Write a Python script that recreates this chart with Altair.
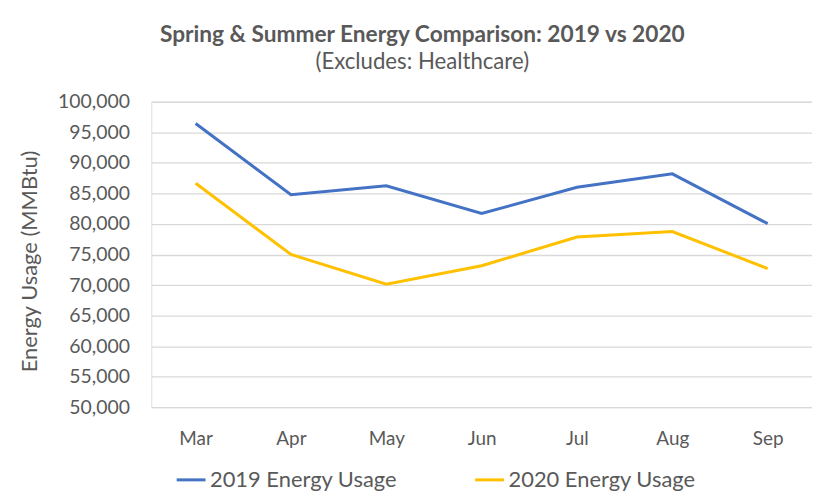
import altair as alt
import pandas as pd

months = ["Mar", "Apr", "May", "Jun", "Jul", "Aug", "Sep"]
usage_2019 = [96450, 84800, 86250, 81700, 86000, 88200, 80050]
usage_2020 = [86650, 75000, 70150, 73150, 77850, 78750, 72700]
series_names = ["2019 Energy Usage", "2020 Energy Usage"]
colors = ["#4472C4", "#FFC000"]
y_ticks = list(range(50000, 100001, 5000))

rows = []
for m, v in zip(months, usage_2019):
    rows.append({"Month": m, "Usage": v, "Series": series_names[0]})
for m, v in zip(months, usage_2020):
    rows.append({"Month": m, "Usage": v, "Series": series_names[1]})
df = pd.DataFrame(rows)

FONT = "Lato"
GRAY = "#595959"

chart = alt.Chart(df).mark_line(strokeWidth=3).encode(
    x=alt.X("Month:N", sort=months,
            scale=alt.Scale(type="point", padding=0.465),
            axis=alt.Axis(title=None, labelAngle=0, domain=False, ticks=False,
                          grid=False, labelPadding=22, labelFontSize=19,
                          labelColor=GRAY, labelFont=FONT)),
    y=alt.Y("Usage:Q",
            scale=alt.Scale(domain=[50000, 100000], nice=False, zero=False),
            axis=alt.Axis(title="Energy Usage (MMBtu)", values=y_ticks, format=",.0f",
                          domain=False, ticks=False, labelPadding=22,
                          labelFontSize=19.5, labelColor=GRAY, labelFont=FONT,
                          titleFontSize=22, titleFontWeight="normal", titleColor=GRAY,
                          titleFont=FONT, titlePadding=16, titleY=160,
                          gridColor="#D9D9D9", gridWidth=1.3)),
    color=alt.Color("Series:N", sort=series_names,
                    scale=alt.Scale(domain=series_names, range=colors),
                    legend=alt.Legend(title=None, orient="none", direction="horizontal",
                                      legendX=24, legendY=364,
                                      symbolType="stroke", symbolSize=841,
                                      symbolStrokeWidth=3, labelFontSize=22,
                                      labelColor=GRAY, labelFont=FONT, labelLimit=0,
                                      labelOffset=3, columnPadding=71)),
).properties(
    width=664,
    height=307,
    title=alt.TitleParams(
        text="Spring & Summer Energy Comparison: 2019 vs 2020",
        subtitle="(Excludes: Healthcare)",
        font=FONT, fontSize=22.8, fontWeight="bold", color=GRAY,
        subtitleFont=FONT, subtitleFontSize=22.3, subtitleColor=GRAY,
        anchor="middle", frame="bounds", offset=19, subtitlePadding=4, dx=7,
    ),
    padding={"left": 10, "right": 0, "top": 14, "bottom": 5},
).configure_view(stroke=None).configure(background="white")

chart.save("out.html", embed_options={"renderer": "svg", "actions": False})
